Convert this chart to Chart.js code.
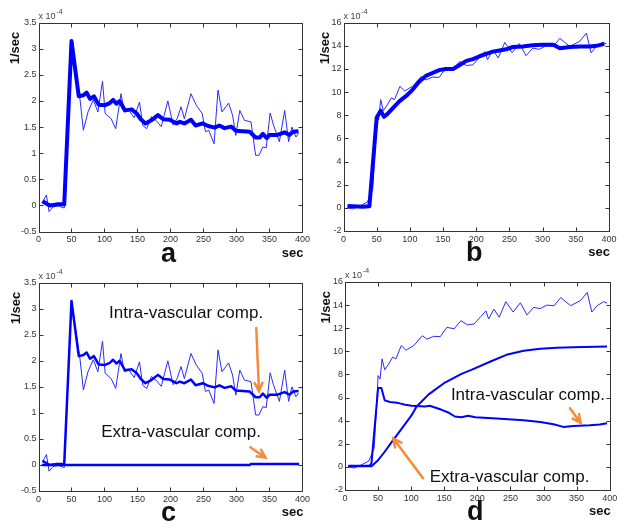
<!DOCTYPE html>
<html>
<head>
<meta charset="utf-8">
<script src="https://cdn.jsdelivr.net/npm/chart.js@4.4.1/dist/chart.umd.min.js"></script>
<style>
html, body { margin: 0; padding: 0; background: #fff; }
body { width: 626px; height: 531px; position: relative; overflow: hidden; }
canvas { position: absolute; }
</style>
</head>
<body>
<canvas id="panelA" width="313" height="270" style="left:0;top:0"></canvas>
<canvas id="panelB" width="313" height="270" style="left:313px;top:0"></canvas>
<canvas id="panelC" width="313" height="271" style="left:0;top:260px"></canvas>
<canvas id="panelD" width="313" height="271" style="left:313px;top:260px"></canvas>
<script>
"use strict";

/*global Chart*/

// ---- data (sec, 1e-4 / sec) ----
var secThinA = [6, 12, 16, 22, 30, 39, 50, 63, 68, 75, 83, 90, 97, 101, 110, 117, 125, 130, 137, 145,
    153, 158, 164, 171, 178, 186, 196, 204, 210, 216, 221, 231, 239, 248, 253, 258, 266, 272, 278, 288,
    294, 299, 305, 312, 322, 329, 334, 340, 345, 351, 356, 365, 373, 379, 384, 390, 394];
var rateThinA = [0.06, 0.2, -0.12, -0.03, -0.01, -0.05, 3.15, 2.02, 1.44, 1.79, 2.02, 1.79, 2.38, 1.76, 1.66, 1.47, 2.14, 1.79, 1.82, 1.68,
    1.98, 1.53, 1.47, 1.70, 1.63, 1.51, 2.0, 1.54, 1.66, 1.89, 1.66, 2.14, 1.92, 1.76, 1.41, 1.44, 1.18, 2.21, 1.79, 1.96,
    1.73, 1.34, 1.82, 1.63, 1.60, 0.96, 0.96, 1.12, 1.10, 1.77, 1.54, 1.22, 1.82, 1.22, 1.50, 1.31, 1.38];

var secFitA = [6, 17, 28, 39, 50, 61, 68, 73, 78, 84, 91, 101, 108, 113, 118, 123, 131, 141, 149, 155,
    162, 171, 181, 189, 199, 209, 214, 221, 231, 238, 249, 257, 267, 274, 282, 292, 299, 320, 329, 335,
    340, 346, 350, 362, 373, 380, 386, 394];
var rateFitA = [0.08, 0.0, 0.02, 0.02, 3.15, 2.09, 2.11, 2.16, 2.04, 2.09, 1.93, 1.92, 1.96, 2.02, 1.95, 2.0, 1.82, 1.84, 1.76, 1.65,
    1.57, 1.63, 1.73, 1.65, 1.64, 1.57, 1.6, 1.57, 1.64, 1.53, 1.57, 1.52, 1.49, 1.53, 1.48, 1.51, 1.43, 1.41, 1.30, 1.30,
    1.37, 1.29, 1.35, 1.35, 1.40, 1.35, 1.41, 1.42];

var secExtraC = [5, 320, 322, 395];
var rateExtraC = [0, 0, 0.02, 0.02];

var secThinB = [6, 14, 24, 36, 44, 48, 50, 53, 56, 60, 66, 72, 77, 85, 92, 104, 117, 124, 134, 144,
    154, 165, 175, 185, 195, 205, 213, 217, 225, 233, 243, 254, 265, 275, 285, 295, 305, 316, 326, 341,
    356, 366, 373, 381, 391, 396];
var rateThinB = [0.0, -0.1, 0.15, 0.5, 1.6, 5.4, 7.9, 7.6, 9.35, 8.4, 8.9, 9.5, 9.35, 10.5, 10.1, 10.5, 11.35, 11.05, 11.3, 11.27,
    12.08, 11.95, 12.65, 12.3, 12.36, 13.0, 13.5, 12.8, 13.65, 12.95, 14.3, 13.4, 14.2, 13.15, 13.8, 13.7, 14.0, 13.95, 14.65, 13.95,
    14.4, 15.1, 13.4, 13.95, 14.3, 14.17];

var secFitB = [6, 29, 39, 50, 56, 61, 66, 74, 84, 94, 104, 114, 124, 134, 144, 154, 165, 175, 185, 195,
    205, 215, 225, 235, 245, 255, 270, 285, 300, 316, 326, 341, 356, 371, 381, 393];
var rateFitB = [0.17, 0.09, 0.14, 7.8, 8.4, 7.87, 8.1, 8.6, 9.2, 9.65, 10.2, 10.9, 11.4, 11.65, 11.9, 12.0, 12.0, 12.35, 12.7, 12.85,
    13.1, 13.3, 13.5, 13.6, 13.7, 13.9, 13.95, 14.05, 14.1, 14.1, 13.8, 13.9, 13.95, 13.95, 14.0, 14.17];

var secIntraD = [5, 37, 40, 50, 55, 60, 68, 81, 91, 101, 121, 128, 146, 156, 166, 176, 186, 197, 229, 270,
    295, 315, 330, 345, 370, 385, 396];
var rateIntraD = [0.1, 0.1, 0.3, 6.83, 6.83, 5.76, 5.61, 5.52, 5.38, 5.29, 5.23, 5.29, 4.94, 4.71, 4.36, 4.3, 4.42, 4.3, 4.18, 4.03,
    3.89, 3.69, 3.46, 3.54, 3.6, 3.66, 3.78];

var secExtraD = [5, 40, 50, 60, 73, 86, 101, 108, 126, 151, 176, 191, 219, 244, 270, 295, 320, 345, 396];
var rateExtraD = [0.05, 0.05, 0.58, 1.31, 2.33, 3.34, 4.5, 5.2, 6.25, 7.3, 8.05, 8.4, 9.1, 9.7, 10.05, 10.22, 10.32, 10.36, 10.42];

var secTicks = [0, 50, 100, 150, 200, 250, 300, 350, 400];
var rateRangeA = [-0.5, 3.5, 0.5];
var rateRangeB = [-2, 16, 2];

var BLUE = '#0000ff',
    THIN = '#2a2aff',
    ORANGE = '#f58a3a',
    AXIS = '#333333',
    SANS = '"Liberation Sans", Arial, sans-serif',
    TICKFONT = '"Liberation Sans Narrow", "Liberation Sans", Arial, sans-serif';

var pts = function (secs, rates) {
    return secs.map(function (s, i) {
        return {x: s, y: rates[i]};
    });
};

var line = function (secs, rates, width, color) {
    return {
        data: pts(secs, rates),
        borderColor: color || BLUE,
        borderWidth: width,
        pointRadius: 0,
        tension: 0,
        borderJoinStyle: 'round',
        fill: false
    };
};

var drawArrow = function (ctx, x1, y1, x2, y2) {
    var ang = Math.atan2(y2 - y1, x2 - x1), len = 9, spread = 0.45;
    ctx.beginPath();
    ctx.moveTo(x1, y1);
    ctx.lineTo(x2, y2);
    ctx.moveTo(x2 - len * Math.cos(ang - spread), y2 - len * Math.sin(ang - spread));
    ctx.lineTo(x2, y2);
    ctx.lineTo(x2 - len * Math.cos(ang + spread), y2 - len * Math.sin(ang + spread));
    ctx.stroke();
};

// MATLAB style frame: box, inward ticks, exponent, axis titles, panel letter, notes
var panelFrame = {
    id: 'panelFrame',
    afterDatasetsDraw: function (chart, args, opts) {
        var ctx = chart.ctx, area = chart.chartArea,
            xs = chart.scales.x, ys = chart.scales.y,
            l = Math.round(area.left) + 0.5, r = Math.round(area.right) + 0.5,
            t = Math.round(area.top) + 0.5, b = Math.round(area.bottom) + 0.5,
            w;
        ctx.save();
        ctx.strokeStyle = AXIS;
        ctx.lineWidth = 1;
        ctx.strokeRect(l, t, r - l, b - t);
        ctx.beginPath();
        xs.ticks.forEach(function (tk) {
            var p = Math.round(xs.getPixelForValue(tk.value)) + 0.5;
            ctx.moveTo(p, b); ctx.lineTo(p, b - 4);
            ctx.moveTo(p, t); ctx.lineTo(p, t + 4);
        });
        ys.ticks.forEach(function (tk) {
            var p = Math.round(ys.getPixelForValue(tk.value)) + 0.5;
            ctx.moveTo(l, p); ctx.lineTo(l + 4, p);
            ctx.moveTo(r, p); ctx.lineTo(r - 4, p);
        });
        ctx.stroke();

        // x 10^-4
        ctx.fillStyle = '#444';
        ctx.textAlign = 'left';
        ctx.textBaseline = 'alphabetic';
        ctx.font = '9px ' + TICKFONT;
        ctx.fillText('x 10', area.left, area.top - 4);
        w = ctx.measureText('x 10').width;
        ctx.font = '7px ' + TICKFONT;
        ctx.fillText('-4', area.left + w + 1, area.top - 9);

        // 1/sec
        ctx.fillStyle = '#111';
        ctx.font = 'bold 13px ' + SANS;
        ctx.save();
        ctx.translate(area.left - opts.titleGap, area.top + 9);
        ctx.rotate(-Math.PI / 2);
        ctx.textAlign = 'right';
        ctx.textBaseline = 'middle';
        ctx.fillText('1/sec', 0, 0);
        ctx.restore();

        // sec
        ctx.textAlign = 'right';
        ctx.fillText('sec', area.right + 1, area.bottom + 25);

        // panel letter
        ctx.font = 'bold 27px ' + SANS;
        ctx.textAlign = 'center';
        ctx.fillText(opts.letter, (area.left + area.right) / 2 - 2, area.bottom + 30);

        // notes
        ctx.font = '17px ' + SANS;
        ctx.textAlign = 'left';
        (opts.notes || []).forEach(function (n) {
            ctx.fillText(n.text, xs.getPixelForValue(n.sec), ys.getPixelForValue(n.rate));
        });
        ctx.strokeStyle = ORANGE;
        ctx.lineWidth = 2.5;
        ctx.lineCap = 'round';
        (opts.arrows || []).forEach(function (a) {
            drawArrow(ctx, xs.getPixelForValue(a[0]), ys.getPixelForValue(a[1]),
                xs.getPixelForValue(a[2]), ys.getPixelForValue(a[3]));
        });
        ctx.restore();
    }
};

var makePanel = function (p) {
    var canvas = document.getElementById(p.id),
        W = canvas.width, H = canvas.height;
    return new Chart(canvas.getContext('2d'), {
        type: 'line',
        data: {datasets: p.lines},
        plugins: [panelFrame],
        options: {
            responsive: false,
            animation: false,
            events: [],
            layout: {padding: {top: p.box[1], right: W - p.box[2], left: 0, bottom: 0}},
            plugins: {
                legend: {display: false},
                tooltip: {enabled: false},
                panelFrame: {letter: p.letter, titleGap: p.titleGap, notes: p.notes, arrows: p.arrows}
            },
            scales: {
                x: {
                    type: 'linear',
                    min: secTicks[0],
                    max: secTicks[secTicks.length - 1],
                    afterBuildTicks: function (s) {
                        s.ticks = secTicks.map(function (v) { return {value: v}; });
                    },
                    afterFit: function (s) { s.height = H - p.box[3]; },
                    grid: {display: false, drawTicks: false},
                    border: {display: false},
                    ticks: {
                        padding: 3, color: '#333', font: {family: TICKFONT, size: 9}, maxRotation: 0,
                        callback: function (v) { return String(v); }
                    }
                },
                y: {
                    type: 'linear',
                    min: p.range[0],
                    max: p.range[1],
                    afterFit: function (s) { s.width = p.box[0]; },
                    grid: {display: false, drawTicks: false},
                    border: {display: false},
                    ticks: {
                        stepSize: p.range[2], padding: 2, color: '#333', font: {family: TICKFONT, size: 9},
                        callback: function (v) { return String(v); }
                    }
                }
            }
        }
    });
};

var panels = [
    {
        id: 'panelA', letter: 'a', range: rateRangeA, box: [38.5, 22.7, 303.3, 231.5], titleGap: 23.5,
        lines: [line(secFitA, rateFitA, 4), line(secThinA, rateThinA, 1, THIN)]
    },
    {
        id: 'panelB', letter: 'b', range: rateRangeB, box: [30.5, 22.7, 296, 231], titleGap: 18.5,
        lines: [line(secFitB, rateFitB, 4), line(secThinB, rateThinB, 1, THIN)]
    },
    {
        id: 'panelC', letter: 'c', range: rateRangeA, box: [38.5, 22.7, 303.3, 231], titleGap: 22.5,
        lines: [line(secFitA, rateFitA, 2.5), line(secExtraC, rateExtraC, 2.5), line(secThinA, rateThinA, 1, THIN)],
        notes: [
            {text: 'Intra-vascular comp.', sec: 107, rate: 2.82},
            {text: 'Extra-vascular comp.', sec: 95, rate: 0.54}
        ],
        arrows: [[330, 2.63, 334, 1.42], [321, 0.34, 344, 0.14]]
    },
    {
        id: 'panelD', letter: 'd', range: rateRangeB, box: [32, 22, 296.7, 230], titleGap: 19,
        lines: [line(secIntraD, rateIntraD, 2), line(secExtraD, rateExtraD, 2), line(secThinB, rateThinB, 1, THIN)],
        notes: [
            {text: 'Intra-vascular comp.', sec: 160, rate: 5.77},
            {text: 'Extra-vascular comp.', sec: 128, rate: -1.32}
        ],
        arrows: [[340, 5.08, 356, 3.8], [118, -0.98, 73, 2.45]]
    }
];

panels.forEach(makePanel);
</script>
</body>
</html>
